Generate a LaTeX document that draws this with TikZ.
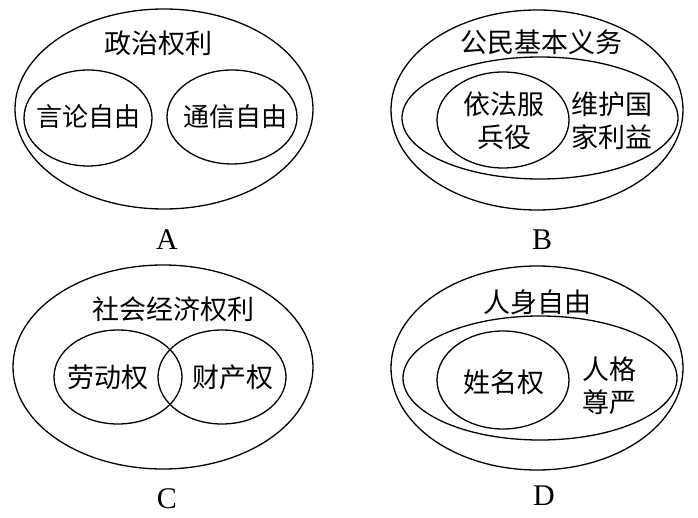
\documentclass[tikz,border=0pt]{standalone}
\usepackage{fontspec}
\setmainfont{Liberation Serif}
\newfontfamily\cjk{Noto Sans CJK SC}
\usetikzlibrary{positioning}

\begin{document}
\begin{tikzpicture}[x=1pt,y=-1pt,line width=1.3pt,
    lbl/.style={font=\cjk\fontsize{27}{33}\selectfont,align=center,inner sep=0pt},
    tag/.style={font=\fontsize{30}{30}\selectfont,inner sep=0pt}]
  \useasboundingbox (0,0) rectangle (698,518);
  % A
  \draw (164,109) ellipse (149pt and 100pt);
  \draw (88,118) ellipse (64pt and 48pt);
  \draw (232,117) ellipse (65pt and 47pt);
  \node[lbl] (polit) at (158,43){政治权利};
  \node[lbl,font=\cjk\fontsize{26}{33}\selectfont] (speech) at (88,117){言论自由};
  \node[lbl,font=\cjk\fontsize{26}{33}\selectfont] (letter) at (235,117){通信自由};
  \node[tag] (tagA) at (167,240){A};
  % B
  \draw (537,110) ellipse (146pt and 100pt);
  \draw (540,118) ellipse (138pt and 61pt);
  \draw (503,120) ellipse (66pt and 48pt);
  \node[lbl] (duty) at (541,42){公民基本义务};
  \node[lbl] (army) at (504,121){依法服\\兵役};
  \node[lbl] (nation) at (612,121){维护国\\家利益};
  \node[tag] (tagB) at (542,240){B};
  % C
  \draw (163,367) ellipse (150pt and 102pt);
  \draw (118,377) ellipse (64pt and 47pt);
  \draw (222,377) ellipse (64pt and 47pt);
  \node[lbl] (econ) at (173,309){社会经济权利};
  \node[lbl] (labour) at (108,377){劳动权};
  \node[lbl] (prop) at (233,377){财产权};
  \node[tag] (tagC) at (167,499){C};
  % D
  \draw (537,368) ellipse (146pt and 102pt);
  \draw (540,378) ellipse (137pt and 62pt);
  \draw (503,380) ellipse (66pt and 49pt);
  \node[lbl] (person) at (537,302){人身自由};
  \node[lbl] (name) at (504,382){姓名权};
  \node[lbl] (dignity) at (609,386){人格\\尊严};
  \node[tag] (tagD) at (544,496){D};
\end{tikzpicture}
\end{document}
